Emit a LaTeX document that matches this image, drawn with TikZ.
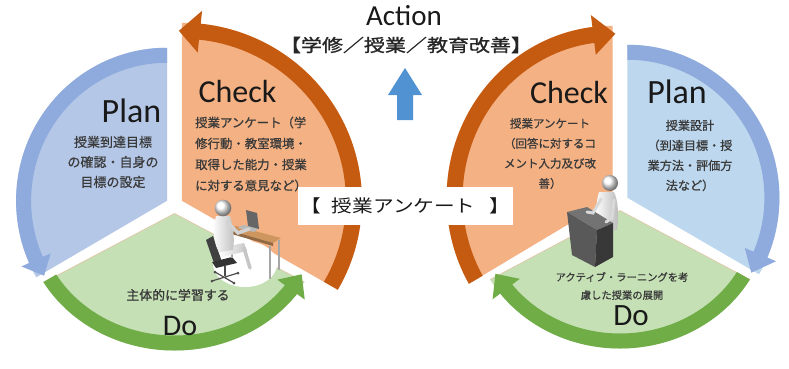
\documentclass[tikz,border=0pt]{standalone}
\usepackage{fontspec}
\usepackage{graphicx}
\setmainfont{Carlito}
\newfontfamily\jp[FakeBold=0.8]{Noto Sans CJK JP}
\newfontfamily\jpplain{Noto Sans CJK JP}
\newfontfamily\jpbold[FakeBold=1.2]{Noto Sans CJK JP}

\definecolor{planfill}{RGB}{180,199,231}
\definecolor{planfillR}{RGB}{189,215,238}
\definecolor{planband}{RGB}{143,170,220}
\definecolor{checkfill}{RGB}{244,177,131}
\definecolor{checkband}{RGB}{197,90,17}
\definecolor{dofill}{RGB}{197,224,180}
\definecolor{doband}{RGB}{112,173,71}
\definecolor{actblue}{RGB}{80,146,210}
\definecolor{bodytxt}{RGB}{58,58,58}
\definecolor{deskwood}{RGB}{205,150,95}
\definecolor{edgetan}{RGB}{228,196,168}

% filled pie sector: apex, start angle, end angle, x radius, y radius, colour
\newcommand\sectorpie[6]{%
  \fill[#6,shift={(#1)}] (0,0) -- ({#4*cos(#2)},{#5*sin(#2)})
    arc[start angle=#2,end angle=#3,x radius=#4,y radius=#5] -- cycle;}

% curved band with an arrow head:
% centre, start angle, head base angle, tip angle, x radius, y radius,
% band width, half head width, colour
\newcommand\ringarrow[9]{%
  \pgfmathsetmacro\raOx{#5+#7/2}%
  \pgfmathsetmacro\raOy{#6+#7/2}%
  \pgfmathsetmacro\raIx{#5-#7/2}%
  \pgfmathsetmacro\raIy{#6-#7/2}%
  \pgfmathsetmacro\raHOx{#5+#8}%
  \pgfmathsetmacro\raHOy{#6+#8}%
  \pgfmathsetmacro\raHIx{#5-#8}%
  \pgfmathsetmacro\raHIy{#6-#8}%
  \fill[#9,shift={(#1)}]
    ({\raOx*cos(#2)},{\raOy*sin(#2)})
    arc[start angle=#2,end angle=#3,x radius=\raOx,y radius=\raOy]
    -- ({\raHOx*cos(#3)},{\raHOy*sin(#3)})
    -- ({#5*cos(#4)},{#6*sin(#4)})
    -- ({\raHIx*cos(#3)},{\raHIy*sin(#3)})
    -- ({\raIx*cos(#3)},{\raIy*sin(#3)})
    arc[start angle=#3,end angle=#2,x radius=\raIx,y radius=\raIy]
    -- cycle;}

\tikzset{
  bigword/.style={font=\fontsize{#1}{#1}\selectfont, text=black!90, inner sep=0pt, anchor=base},
  jptext/.style={font=\jp\fontsize{#1}{20}\selectfont, text=bodytxt, inner sep=0pt, align=center},
  doedge/.style={draw=edgetan, line width=0.6pt},
}

\begin{document}
\begin{tikzpicture}[x=1pt,y=1pt]
\useasboundingbox (0,0) rectangle (789,368);
\fill[white] (0,0) rectangle (789,368);

% apexes of the exploded pie slices
\coordinate (CLp) at (167.1,167.25);
\coordinate (CLc) at (181.9,167.25);
\coordinate (CLd) at (174.5,154.5);
\coordinate (CRc) at (612.6,170.25);
\coordinate (CRp) at (627.4,170.25);
\coordinate (CRd) at (620,157.5);

% ---------- left cycle ----------
\sectorpie{CLp}{90}{210}{151}{153}{planfill}
\sectorpie{CLc}{-30}{90}{180}{178}{checkfill}
\sectorpie{CLd}{210}{330}{150}{137}{dofill}
\draw[doedge,shift={(CLd)}] ({150*cos(210)},{137*sin(210)}) -- (0,0) -- ({150*cos(330)},{137*sin(330)});
\ringarrow{CLp}{90}{204}{211}{143.5}{145.5}{15}{16}{planband}
\ringarrow{CLc}{-30}{84}{91}{172}{170}{16}{21}{checkband}
\ringarrow{CLd}{210}{324}{332}{144}{129.5}{15}{17}{doband}

% ---------- right cycle ----------
\sectorpie{CRc}{90}{210}{166}{172}{checkfill}
\sectorpie{CRp}{-30}{90}{152}{153}{planfillR}
\sectorpie{CRd}{210}{330}{150}{138}{dofill}
\draw[doedge,shift={(CRd)}] ({150*cos(210)},{138*sin(210)}) -- (0,0) -- ({150*cos(330)},{138*sin(330)});
\ringarrow{CRc}{210}{97}{89}{158}{164}{16}{20}{checkband}
\ringarrow{CRp}{90}{-23}{-31}{144.5}{145.5}{15}{17}{planband}
\ringarrow{CRd}{330}{217}{209}{142.5}{130.5}{15}{17}{doband}

% ---------- centre: Action ----------
\node[bigword=29] (action) at (404,343) {Action};
\node[font=\jpbold\fontsize{17.5}{17.5}\selectfont, text=black!85, inner sep=0pt] (actsub) at (406,323)
  {\scalebox{1.2}[1]{【学修／授業／教育改善】}};
\fill[actblue] (405,300) -- (422,273) -- (413,273) -- (413,248) -- (397,248) -- (397,273) -- (388,273) -- cycle;

% questionnaire banner
\node[fill=white, minimum width=215pt, minimum height=38pt, inner sep=0pt,
      font=\jpplain\fontsize{17.5}{17.5}\selectfont, text=black!90] (survey) at (405.5,162)
  {\scalebox{1.18}[1]{【\hspace{9pt}授業アンケート\hspace{12pt}】}};

% ---------- left cycle texts ----------
\node[bigword=34] (planL) at (131.5,246) {Plan};
\node[jptext=13] (planLtxt) at (113,206) {授業到達目標\\の確認・自身の\\目標の設定};
\node[bigword=32] (checkL) at (237.5,266) {Check};
\node[jptext=12.4, anchor=west, align=left, font=\jp\fontsize{12.4}{21}\selectfont] (checkLtxt) at (195,214)
  {授業アンケート（学\\修行動・教室環境・\\取得した能力・授業\\に対する意見など）};
\node[jptext=12.9] (doLtxt) at (178,73) {主体的に学習する};
\node[bigword=30] (doL) at (180,33) {Do};

% ---------- right cycle texts ----------
\node[bigword=32] (checkR) at (569,265) {Check};
\node[jptext=11.5] (checkRtxt) at (550,214.5) {授業アンケート\\（回答に対するコ\\メント入力及び改\\善）};
\node[bigword=34] (planR) at (677,265) {Plan};
\node[jptext=12.1] (planRtxt) at (690,212.5) {授業設計\\（到達目標・授\\業方法・評価方\\法など）};
\node[jptext=10.3, font=\jp\fontsize{10.3}{18}\selectfont] (doRtxt) at (622,82) {アクティブ・ラーニングを考\\慮した授業の展開};
\node[bigword=31] (doR) at (631,43) {Do};

% ---------- figures (drawn in downward y) ----------
\begin{scope}[shift={(0,368)},yscale=-1]
  % student at a desk
  \fill[white] (245,264) ellipse[x radius=32, y radius=23];
  \fill[black!75] (206,240) -- (213,236) -- (222,262) -- (215,266) -- cycle;
  \fill[black!80] (212,262) -- (232,257) -- (237,263) -- (216,268) -- cycle;
  \draw[black!70, line width=1.6pt] (225,266) -- (225,276);
  \draw[black!70, line width=1.2pt] (212,281) -- (238,273) (215,272) -- (234,283);
  \fill[black!70] (212,281) circle[radius=1.5] (238,273) circle[radius=1.5]
                  (215,272) circle[radius=1.5] (234,283) circle[radius=1.5];
  \draw[gray!70, line width=1.2pt] (232,233) -- (232,258) (270,246) -- (270,279) (279,240) -- (279,270);
  \shade[left color=white, right color=gray!45]
    (219,248) -- (244,243) -- (247,251) -- (222,257) -- cycle;
  \draw[gray!45, line width=3.5pt, line cap=round] (244,248) -- (250,268);
  \fill[deskwood] (228,230) -- (236,226) -- (281,238) -- (273,243) -- cycle;
  \fill[deskwood!70!black] (228,230) -- (273,243) -- (273,246) -- (228,233) -- cycle;
  \fill[gray!55] (238,228) -- (254,232) -- (259,228) -- (243,225) -- cycle;
  \fill[black!60] (246,210) -- (257,213) -- (259,229) -- (248,226) -- cycle;
  \shade[left color=white, right color=gray!50]
    (216,216) .. controls (212,230) and (214,244) .. (219,252)
    -- (233,250) .. controls (235,238) and (233,226) .. (230,216) -- cycle;
  \draw[gray!35, line width=3.5pt, line cap=round] (227,222) -- (238,233) -- (249,229);
  \shade[ball color=white] (223,208) circle[radius=8.3];

  % teacher at a lectern
  \shade[left color=white, right color=gray!55]
    (599,192) .. controls (595,205) and (596,220) .. (598,230)
    -- (617,230) .. controls (619,215) and (618,200) .. (614,192) -- cycle;
  \shade[ball color=white] (610,183) circle[radius=8];
  \fill[black!55] (567,212) -- (587,207) -- (613,223) -- (597,230) -- cycle;
  \fill[black!65] (567,212) -- (597,230) -- (595,267) -- (572,255) -- cycle;
  \fill[black!78] (597,230) -- (613,223) -- (613,257) -- (595,267) -- cycle;
  \draw[gray!30, line width=3pt, line cap=round] (601,199) -- (593,213) -- (587,212);
  \draw[gray!30, line width=3pt, line cap=round] (614,200) -- (612,218) -- (606,222);
\end{scope}
\end{tikzpicture}
\end{document}
